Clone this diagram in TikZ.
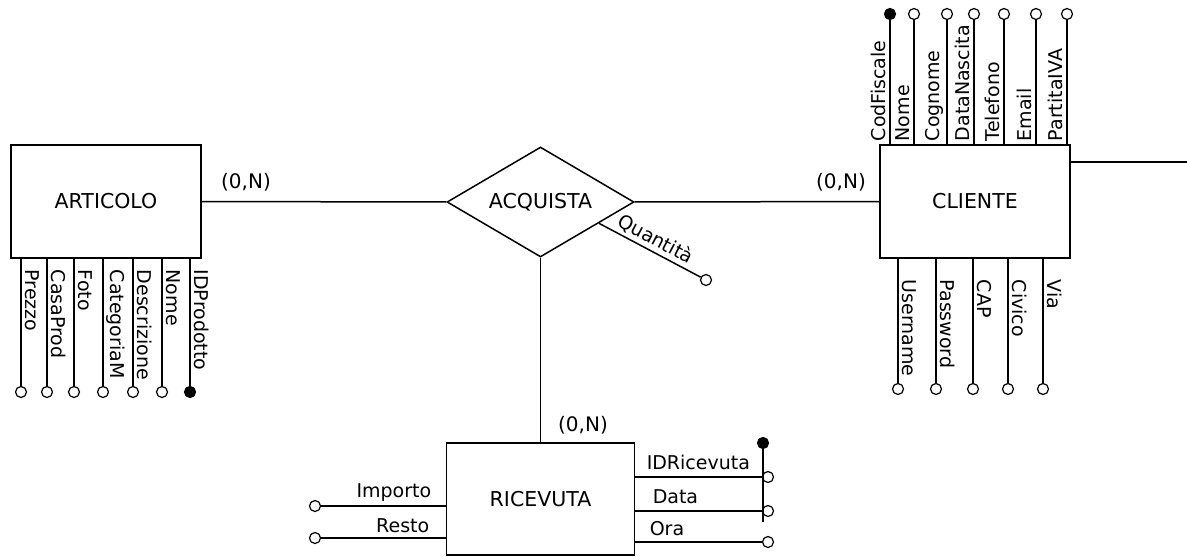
\documentclass[tikz,border=0pt]{standalone}
\usepackage{fontspec}
\setmainfont{DejaVu Sans}
\usetikzlibrary{shapes.geometric}

\tikzset{
  entity/.style={draw, minimum width=190pt, minimum height=113pt, inner sep=0pt, font=\fontsize{20.5}{24}\selectfont},
  relation/.style={draw, diamond, aspect=1.7, minimum width=187pt, minimum height=110pt, inner sep=0pt, font=\fontsize{20.5}{24}\selectfont},
  attr/.style={draw, circle, fill=white, minimum size=11pt, inner sep=0pt, line width=1.2pt},
  keyattr/.style={attr, fill=black},
  attrname/.style={inner sep=1pt, anchor=south west},
  card/.style={inner sep=0pt, font=\fontsize{20}{24}\selectfont}
}

\begin{document}
\begin{tikzpicture}[x=1pt, y=-1pt, line width=1.5pt, font=\fontsize{19}{22}\selectfont]
\useasboundingbox (0,0) rectangle (1187,557);

% entita' e relazione
\node[entity] (art) at (106,201.5) {ARTICOLO};
\node[relation] (acq) at (540.5,202) {ACQUISTA};
\node[entity] (cli) at (975,201.5) {CLIENTE};
\node[entity, minimum width=188pt, minimum height=112pt] (ric) at (540.5,499) {RICEVUTA};

\draw (art) -- (acq);
\draw (acq) -- (cli);
\draw (acq) -- (ric);
\node[card] (cardArt) at (246,182) {(0,N)};
\node[card] (cardCli) at (841,182) {(0,N)};
\node[card] (cardRic) at (583,425) {(0,N)};

% uscita verso destra
\coordinate (cliOut) at (1187,162);
\draw (cli.east |- cliOut) -- (cliOut);

% attributo della relazione
\node[attr] (qta) at (706,280) {};
\draw (acq.-20) -- node[sloped, above, inner sep=3pt] (qtaName) {Quantità} (qta);

% attributi ARTICOLO
\foreach \x/\t [count=\i] in {21/Prezzo, 47/CasaProd, 74/Foto, 103/CategoriaM, 133/Descrizione, 162/Nome}{
  \node[attr] (artA\i) at (\x,392) {};
  \draw (artA\i) -- (artA\i |- art.south);
  \node[attrname, rotate=-90] (artN\i) at (\x+2,268) {\t};
}
\node[keyattr] (artK) at (190,392) {};
\draw (artK) -- (artK |- art.south);
\node[attrname, rotate=-90] (artNK) at (192,268) {IDProdotto};

% attributi CLIENTE
\node[keyattr] (cliK) at (890,14) {};
\draw (cliK) -- (cliK |- cli.north);
\node[attrname, rotate=90] (cliNK) at (888,143) {CodFiscale};
\foreach \x/\t [count=\i] in {914/Nome, 947/Cognome, 974/DataNascita, 1004/Telefono, 1036/Email, 1067/PartitaIVA}{
  \node[attr] (cliT\i) at (\x,14) {};
  \draw (cliT\i) -- (cliT\i |- cli.north);
  \node[attrname, rotate=90] (cliNT\i) at (\x-2,143) {\t};
}
\foreach \x/\t [count=\i] in {898/Username, 936/Password, 973/CAP, 1008/Civico, 1043/Via}{
  \node[attr] (cliB\i) at (\x,389) {};
  \draw (cliB\i) -- (cliB\i |- cli.south);
  \node[attrname, rotate=-90] (cliNB\i) at (\x+2,278) {\t};
}

% attributi RICEVUTA
\node[attr] (ricA1) at (315,506) {};
\draw (ricA1) -- (ricA1 -| ric.west);
\node[attrname, anchor=south east] (ricN1) at (433,503) {Importo};
\node[attr] (ricA2) at (315,538) {};
\draw (ricA2) -- (ricA2 -| ric.west);
\node[attrname, anchor=south east] (ricN2) at (431,535) {Resto};

\node[attr] (ricA3) at (768,477) {};
\draw (ric.east |- ricA3) -- (ricA3);
\node[attrname] (ricN3) at (645,472) {IDRicevuta};
\node[attr] (ricA4) at (768,511) {};
\draw (ric.east |- ricA4) -- (ricA4);
\node[attrname] (ricN4) at (651,506) {Data};
\node[attr] (ricA5) at (768,542) {};
\draw (ric.east |- ricA5) -- (ricA5);
\node[attrname] (ricN5) at (648,538) {Ora};

% chiave composta
\node[keyattr] (ricK) at (763,443) {};
\coordinate (ricKend) at (763,522);
\draw (ricK) -- (ricKend);
\end{tikzpicture}
\end{document}
